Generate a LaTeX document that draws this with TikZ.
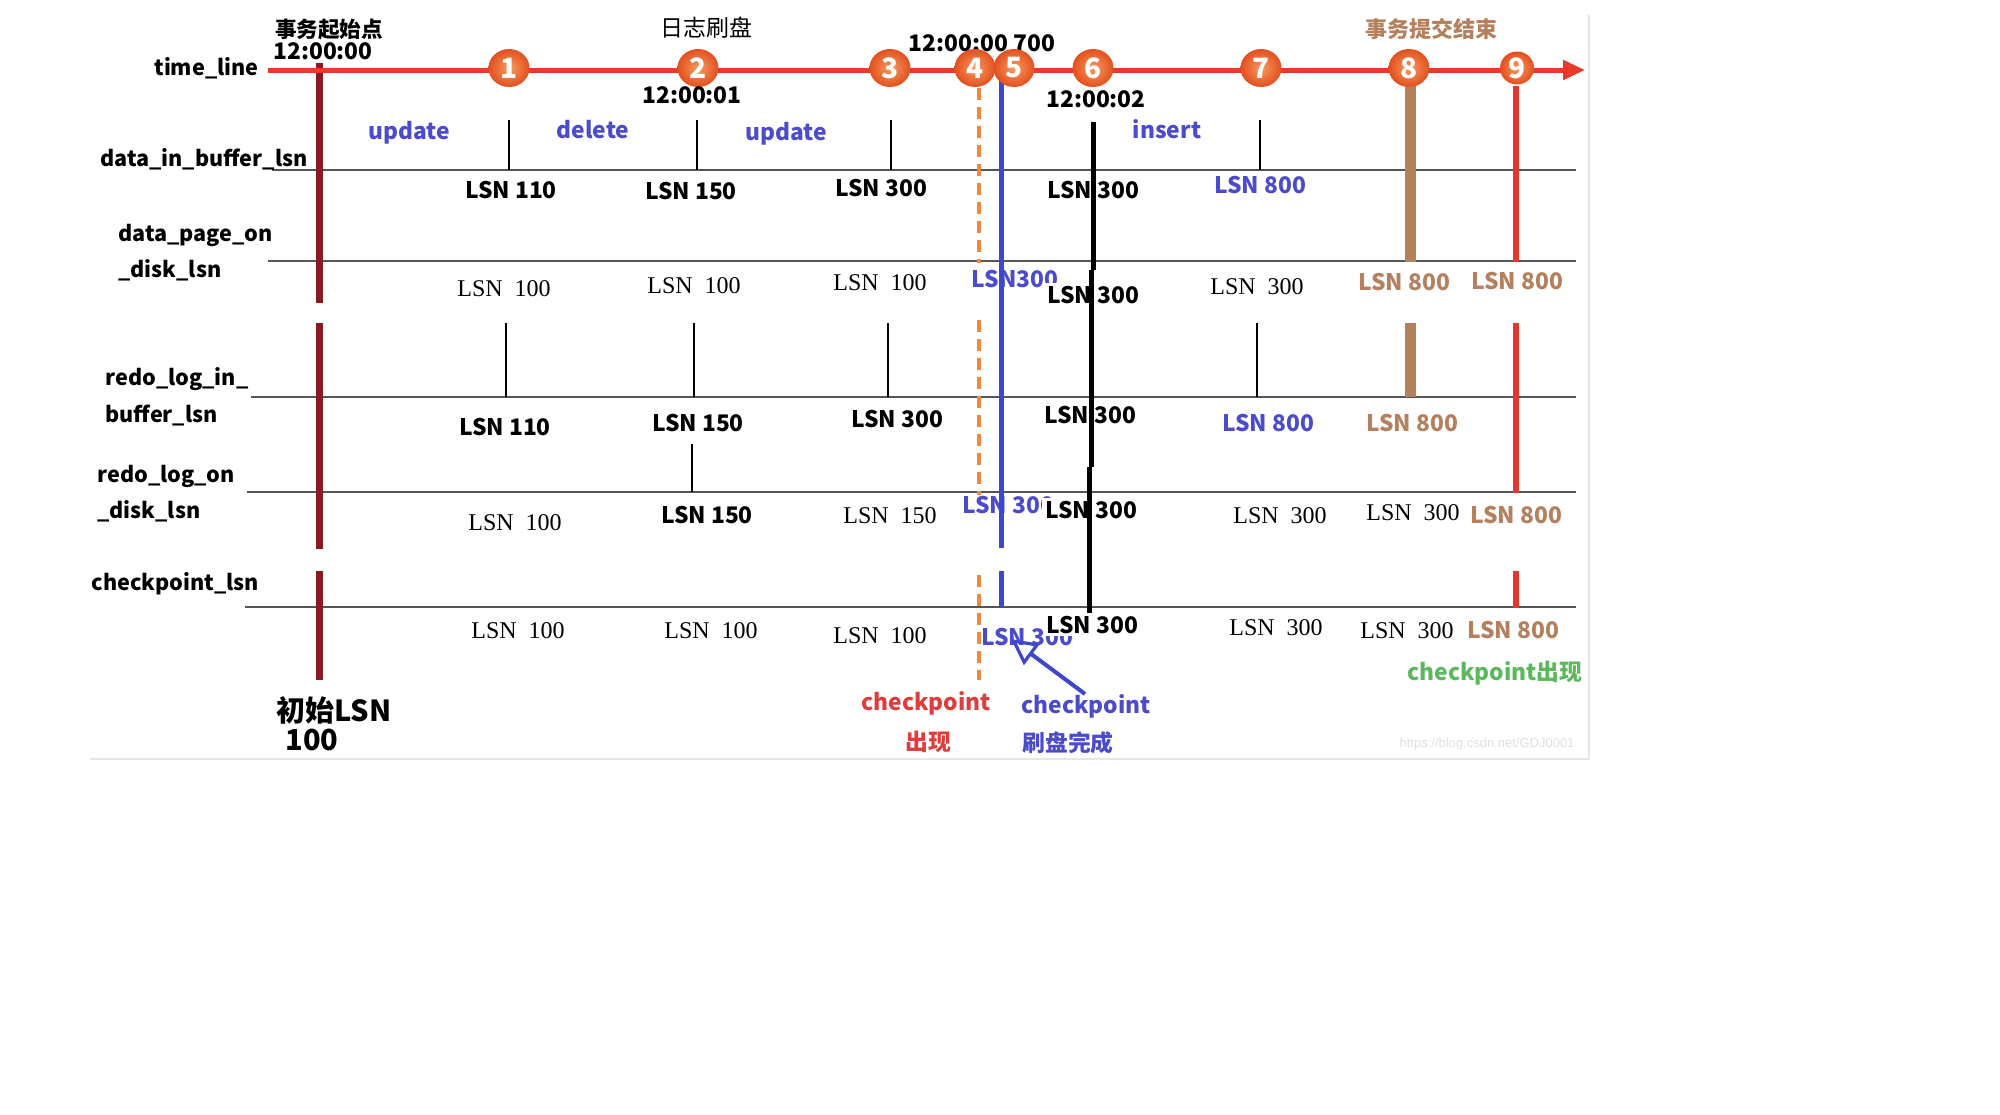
\documentclass[tikz,border=0pt]{standalone}
\usepackage{fontspec}
\setmainfont{Liberation Serif}
\newfontfamily\cjk{Noto Sans CJK SC}
\newfontfamily\srf{Liberation Serif}
\newfontfamily\wmf{Liberation Sans}
\usetikzlibrary{shapes.geometric,arrows.meta}
\definecolor{tlred}{HTML}{E8392B}
\definecolor{darkred}{HTML}{8B1A20}
\definecolor{cpblue}{HTML}{3F48CC}
\definecolor{opblue}{HTML}{4B4BCB}
\definecolor{brownc}{HTML}{B5805E}
\definecolor{red9}{HTML}{E0372F}
\definecolor{orangec}{HTML}{F0883E}
\definecolor{greenc}{HTML}{5DB85D}
\definecolor{redtxt}{HTML}{E03C3C}
\definecolor{rowgray}{HTML}{555555}
\definecolor{bordergray}{HTML}{E6E6E6}
\definecolor{ballin}{HTML}{F79A60}
\definecolor{ballout}{HTML}{E2501F}
\tikzset{
  lbl/.style={font=\cjk\bfseries\fontsize{10.8}{13}\selectfont, inner sep=0pt, anchor=base west},
  bt/.style={font=\cjk\bfseries\fontsize{11.4}{14}\selectfont, inner sep=0pt, anchor=base},
  st/.style={font=\srf\fontsize{12}{14}\selectfont, inner sep=0pt, anchor=base},
  wbox/.style={fill=white, inner sep=1.5pt},
  ball/.style={ellipse, minimum width=20.5pt, minimum height=19pt, inner sep=0pt,
    inner color=ballin, outer color=ballout, text=white,
    font=\cjk\bfseries\fontsize{14}{14}\selectfont},
  smallball/.style={ball, minimum width=17pt, minimum height=16.5pt},
  rowline/.style={draw=rowgray, line width=1.1pt},
  tick/.style={draw=black, line width=0.7pt},
}
\begin{document}
\begin{tikzpicture}[x=0.5pt,y=-0.5pt]
\useasboundingbox (0,0) rectangle (2000,1114);
\fill[white] (0,0) rectangle (2000,1114);
% frame
\draw[bordergray, line width=1pt] (90,759) -- (1589,759) -- (1589,15);

% blue texts that are partly covered
\node[bt, text=opblue] (dp6b) at (1015,287) {LSN300};
\node[bt, text=opblue] (rd6b) at (1008,513) {LSN 300};
\node[bt, text=opblue] (cp6b) at (1027,645) {LSN 300};
% black LSN 300 on white boxes
\node[bt, wbox] (db6) at (1093,198) {LSN 300};
\node[bt, wbox] (dp6) at (1093,303) {LSN 300};
\node[bt, wbox] (rb6) at (1090,423) {LSN 300};
\node[bt, wbox] (rd6) at (1091,518) {LSN 300};
\node[bt, wbox] (cp6) at (1092,633) {LSN 300};

% row lines
\draw[rowline] (272,170) -- (1576,170);
\draw[rowline] (268,261) -- (1576,261);
\draw[rowline] (251,397) -- (1576,397);
\draw[rowline] (247,492) -- (1576,492);
\draw[rowline] (245,607) -- (1576,607);

% ticks
\foreach \x in {509,697,891,1260} \draw[tick] (\x,120) -- (\x,170);
\foreach \x in {506,694,888,1257} \draw[tick] (\x,323) -- (\x,397);
\draw[tick] (692,444) -- (692,492);

% vertical markers
\draw[darkred, line width=3.5pt] (319,63) -- (319,303) (319,323) -- (319,549) (319,571) -- (319,680);
\draw[orangec, line width=1.8pt, dash pattern=on 6pt off 3.5pt] (979,88) -- (979,263) (979,320) -- (979,495) (979,575) -- (979,680);
\draw[cpblue, line width=2.5pt] (1001,72) -- (1001,548) (1001,571) -- (1001,607);
\draw[black, line width=2.5pt] (1093,122) -- (1093,270) (1091,270) -- (1091,467) (1089,467) -- (1089,613);
\draw[brownc, line width=5.5pt] (1410,86) -- (1410,262) (1410,323) -- (1410,397);
\draw[red9, line width=3pt] (1516,86) -- (1516,262) (1516,323) -- (1516,493) (1516,571) -- (1516,608);

% time line
\coordinate (tlstart) at (268,70);
\coordinate (tlend) at (1585,70);
\draw[tlred, line width=2.5pt, -{Triangle[length=11pt,width=9.5pt]}] (tlstart) -- (tlend);

% texts behind circles
\node[bt] (t700) at (982,51) {12:00:00 700};

% circles
\node[ball] (c1) at (509,68) {1};
\node[ball] (c2) at (698,68) {2};
\node[ball] (c3) at (890,68) {3};
\node[ball] (c4) at (975,68) {4};
\node[ball] (c5) at (1014,68) {5};
\node[ball] (c6) at (1093,68) {6};
\node[ball] (c7) at (1261,68) {7};
\node[ball] (c8) at (1409,68) {8};
\node[smallball] (c9) at (1517,68) {9};

% top texts
\node[font=\cjk\bfseries\fontsize{10.8}{13}\selectfont, inner sep=0pt, anchor=base] (start) at (329,37) {事务起始点};
\node[bt] (t0) at (323,59) {12:00:00};
\node[font=\cjk\fontsize{11.5}{14}\selectfont, inner sep=0pt, anchor=base] (flush) at (706,36) {日志刷盘};
\node[bt] (t1) at (692,103) {12:00:01};
\node[bt] (t2) at (1096,107) {12:00:02};
\node[font=\cjk\bfseries\fontsize{11}{13}\selectfont, text=brownc, inner sep=0pt, anchor=base] (commit) at (1431,37) {事务提交结束};

% row labels
\node[lbl] (l0) at (154,75) {time\_line};
\node[lbl] (l1) at (100,166) {data\_in\_buffer\_lsn};
\node[lbl] (l2a) at (118,241) {data\_page\_on};
\node[lbl] (l2b) at (118,277) {\_disk\_lsn};
\node[lbl] (l3a) at (105,385) {redo\_log\_in\_};
\node[lbl] (l3b) at (105,422) {buffer\_lsn};
\node[lbl] (l4a) at (97,482) {redo\_log\_on};
\node[lbl] (l4b) at (97,518) {\_disk\_lsn};
\node[lbl] (l5) at (91,590) {checkpoint\_lsn};

% operations
\node[bt, text=opblue] (op1) at (409,139) {update};
\node[bt, text=opblue] (op2) at (593,138) {delete};
\node[bt, text=opblue] (op3) at (786,140) {update};
\node[bt, text=opblue] (op4) at (1167,138) {insert};

% row 1: data_in_buffer_lsn
\node[bt] (db1) at (511,198) {LSN 110};
\node[bt] (db2) at (691,199) {LSN 150};
\node[bt] (db3) at (881,196) {LSN 300};
\node[bt, text=opblue] (db7) at (1260,193) {LSN 800};

% row 2: data_page_on_disk_lsn
\node[st] (dp1) at (504,296) {LSN\enspace 100};
\node[st] (dp2) at (694,293) {LSN\enspace 100};
\node[st] (dp3) at (880,290) {LSN\enspace 100};
\node[st] (dp7) at (1257,294) {LSN\enspace 300};
\node[bt, text=brownc] (dp8) at (1404,290) {LSN 800};
\node[bt, text=brownc] (dp9) at (1517,289) {LSN 800};

% row 3: redo_log_in_buffer_lsn
\node[bt] (rb1) at (505,435) {LSN 110};
\node[bt] (rb2) at (698,431) {LSN 150};
\node[bt] (rb3) at (897,427) {LSN 300};
\node[bt, text=opblue] (rb7) at (1268,431) {LSN 800};
\node[bt, text=brownc] (rb8) at (1412,431) {LSN 800};

% row 4: redo_log_on_disk_lsn
\node[st] (rd1) at (515,530) {LSN\enspace 100};
\node[bt] (rd2) at (707,523) {LSN 150};
\node[st] (rd3) at (890,523) {LSN\enspace 150};
\node[st] (rd7) at (1280,523) {LSN\enspace 300};
\node[st] (rd8) at (1413,520) {LSN\enspace 300};
\node[bt, text=brownc] (rd9) at (1516,523) {LSN 800};

% row 5: checkpoint_lsn
\node[st] (cp1) at (518,638) {LSN\enspace 100};
\node[st] (cp2) at (711,638) {LSN\enspace 100};
\node[st] (cp3) at (880,643) {LSN\enspace 100};
\node[st] (cp7) at (1276,635) {LSN\enspace 300};
\node[st] (cp8) at (1407,638) {LSN\enspace 300};
\node[bt, text=brownc] (cp9) at (1513,638) {LSN 800};

% bottom annotations
\node[font=\cjk\bfseries\fontsize{14.5}{17}\selectfont, inner sep=0pt, anchor=base] (init1) at (334,721) {初始LSN};
\node[font=\cjk\bfseries\fontsize{14.5}{17}\selectfont, inner sep=0pt, anchor=base] (init2) at (312,750) {100};
\node[bt, text=redtxt] (cpa1) at (926,710) {checkpoint};
\node[bt, text=redtxt] (cpa2) at (928,750) {出现};
\node[bt, text=opblue] (cpb1) at (1086,713) {checkpoint};
\node[bt, text=opblue] (cpb2) at (1068,751) {刷盘完成};
\node[bt, text=greenc] (cpc) at (1495,680) {checkpoint出现};
\node[font=\wmf\fontsize{6.5}{8}\selectfont, text=black!12, inner sep=0pt, anchor=base] (wm) at (1487,747) {https://blog.csdn.net/GDJ0001};

% arrow
\coordinate (arrtail) at (1085,694);
\coordinate (arrtip) at (1011,639);
\draw[cpblue, line width=2pt, -{Triangle[open,length=13pt,width=13pt,line width=1.6pt]}] (arrtail) -- (arrtip);
\end{tikzpicture}
\end{document}
